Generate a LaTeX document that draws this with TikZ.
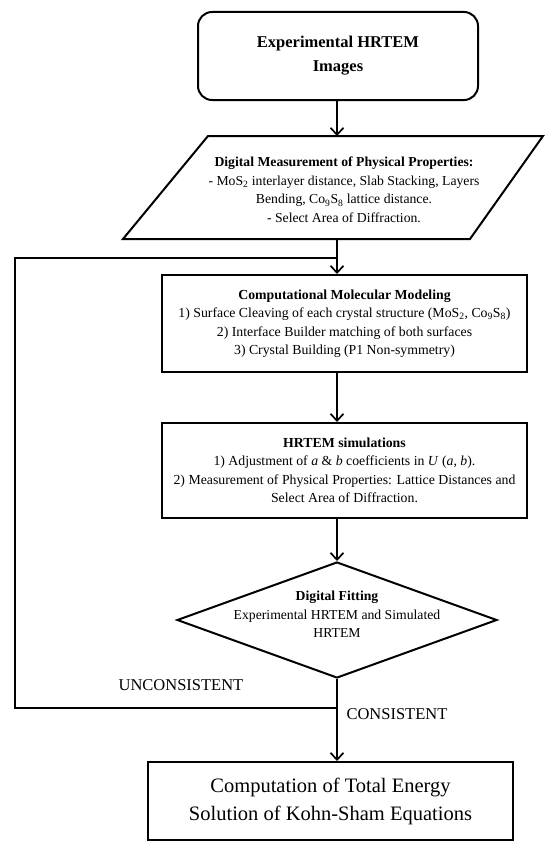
\documentclass[tikz,border=0pt]{standalone}
\usepackage{fontspec}
\setmainfont{Liberation Serif}
\usetikzlibrary{arrows.meta,shapes.geometric}

\begin{document}
\begin{tikzpicture}[x=1pt,y=-1pt,
  >={Straight Barb[length=7pt,width=13pt]},
  box/.style={draw,line width=2pt,minimum width=365pt,align=center,
    font=\fontsize{13.8}{18.5}\selectfont},
  flow/.style={line width=1.7pt}]
  \useasboundingbox (0,0) rectangle (545,843);
  % start
  \node[draw,line width=2pt,rounded corners=14pt,minimum width=280pt,
    minimum height=88pt,align=center,
    font=\fontsize{16.5}{24}\selectfont\bfseries] (img) at (338,56)
    {Experimental HRTEM\\Images};
  % measurement (parallelogram)
  \coordinate (p1) at (123,239);
  \coordinate (p2) at (208,136);
  \coordinate (p3) at (543,136);
  \coordinate (p4) at (470,239);
  \draw[line width=2pt] (p1) -- (p2) -- (p3) -- (p4) -- cycle;
  \node[align=center,font=\fontsize{13.7}{18.5}\selectfont] (meas) at (344,190)
    {\textbf{Digital Measurement of Physical Properties:}\\
     - MoS\textsubscript{2} interlayer distance, Slab Stacking, Layers\\
     Bending, Co\textsubscript{9}S\textsubscript{8} lattice distance.\\
     - Select Area of Diffraction.};
  % modeling and simulations
  \node[box,minimum height=97pt] (model) at (344.5,323.5)
    {\textbf{Computational Molecular Modeling}\\
     1) Surface Cleaving of each crystal structure (MoS\textsubscript{2}, Co\textsubscript{9}S\textsubscript{8})\\
     2) Interface Builder matching of both surfaces\\
     3) Crystal Building (P1 Non-symmetry)};
  \node[box,minimum height=95pt] (sim) at (344.5,470.5)
    {\textbf{HRTEM simulations}\\
     1) Adjustment of \textit{a} \& \textit{b} coefficients in \textit{U} (\textit{a}, \textit{b}).\\
     2) Measurement of Physical Properties: Lattice Distances and\\
     Select Area of Diffraction.};
  % fitting
  \node[draw,diamond,line width=2pt,minimum width=320pt,minimum height=116pt,
    inner sep=0pt] (fit) at (337,620) {};
  \node[align=center,font=\fontsize{13.7}{18.5}\selectfont] (fittxt) at (337,614.5)
    {\textbf{Digital Fitting}\\
     Experimental HRTEM and Simulated\\
     HRTEM};
  % result
  \node[draw,line width=2pt,minimum width=365pt,minimum height=78pt,align=center,
    font=\fontsize{20.5}{28}\selectfont] (total) at (330.5,801)
    {Computation of Total Energy\\Solution of Kohn-Sham Equations};

  \coordinate (mtop) at (337,136);
  \coordinate (mbot) at (337,239);
  \coordinate (jtop) at (337,258);
  \coordinate (jnw) at (15,258);
  \coordinate (jw) at (15,708);
  \coordinate (jn) at (337,708);

  \draw[flow,->] (img.south -| mtop) -- (mtop);
  \draw[flow,->] (mbot) -- (mbot |- model.north);
  \draw[flow,->] (model.south -| mbot) -- (mbot |- sim.north);
  \draw[flow,->] (sim.south -| mbot) -- (fit.north);
  \draw[flow,->] (fit.south) -- (fit.south |- total.north);
  % loop back
  \draw[flow] (jn) -- (jw) -- (jnw) -- (jtop);
  \node[font=\fontsize{16.5}{18}\selectfont] (uncons) at (181,685) {UNCONSISTENT};
  \node[anchor=west,font=\fontsize{16.5}{18}\selectfont] (cons) at (343,714) {CONSISTENT};
\end{tikzpicture}
\end{document}
